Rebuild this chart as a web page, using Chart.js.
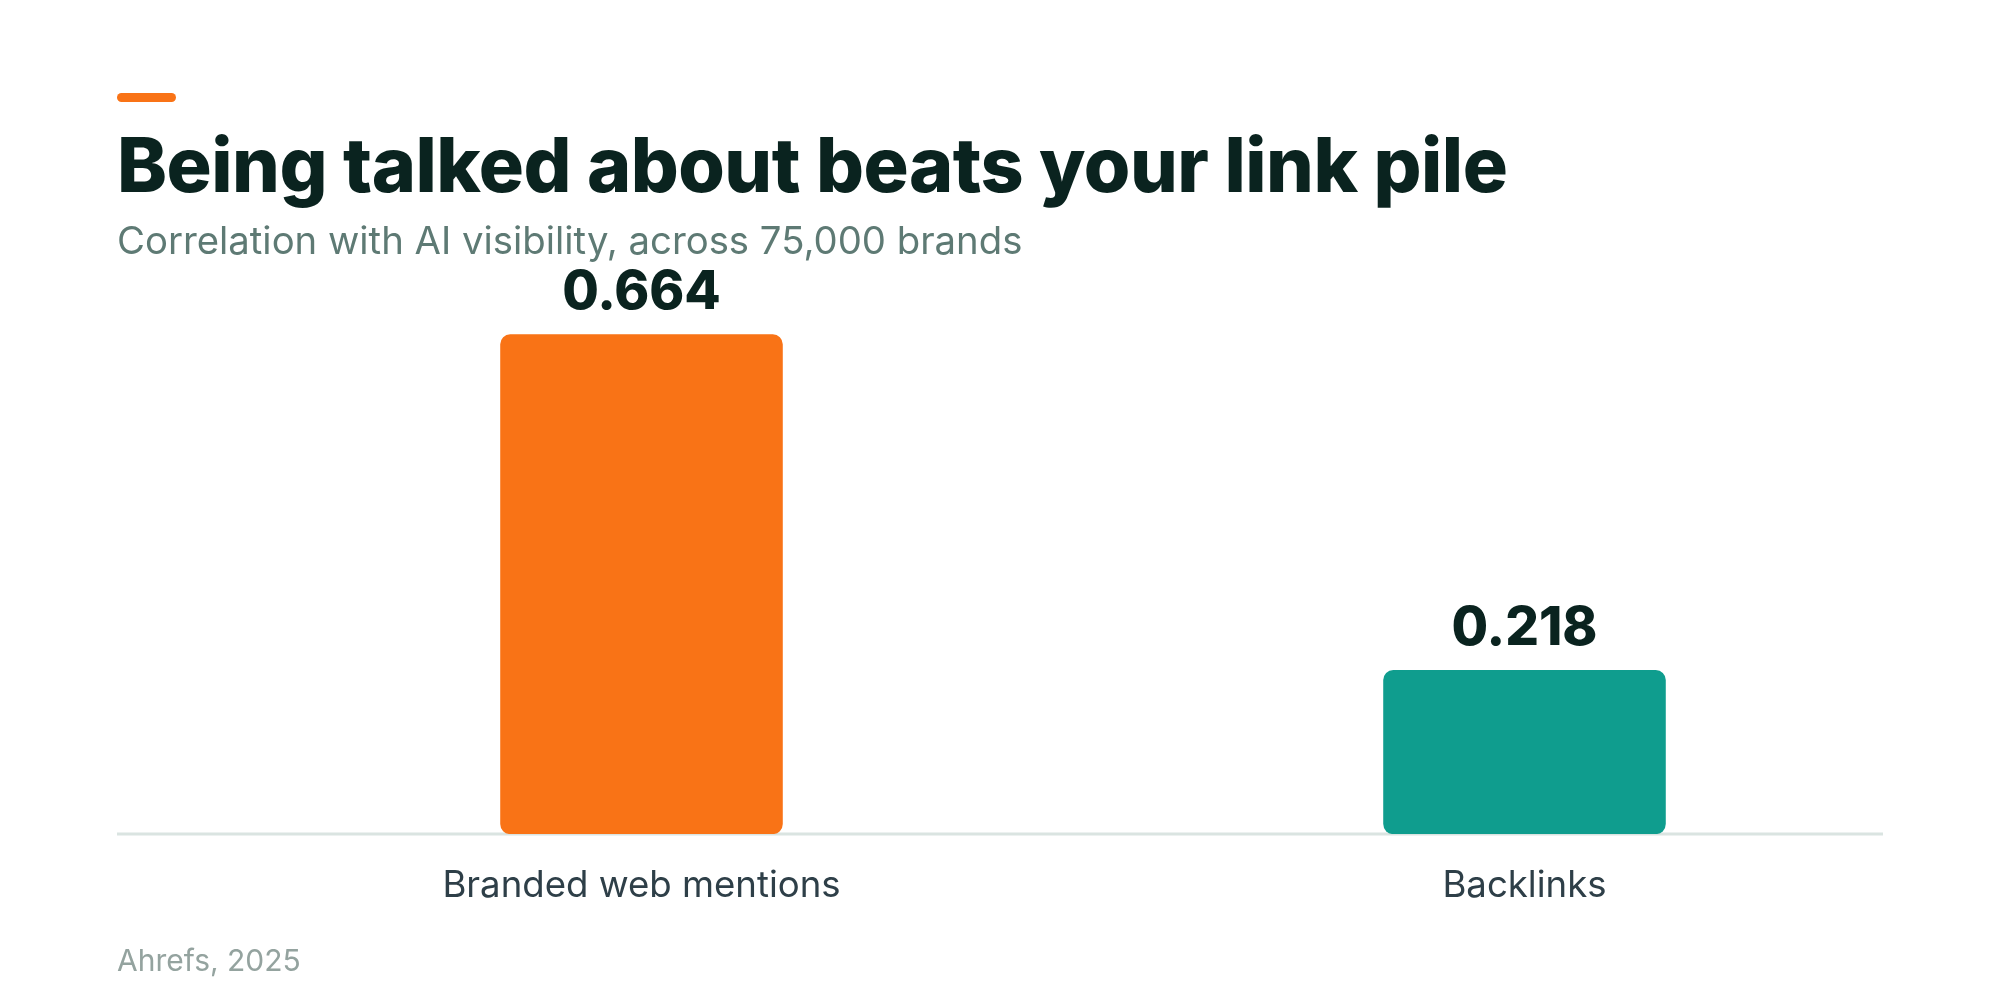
<!DOCTYPE html>
<html>
<head>
<meta charset="utf-8">
<script src="https://cdn.jsdelivr.net/npm/chart.js@4"></script>
<style>
  html, body { margin: 0; padding: 0; background: #fff; }
  #wrap { position: relative; width: 2000px; height: 1000px; overflow: hidden; }
  #chart { position: absolute; left: 0; top: 0; }
  .accent { position: absolute; left: 117px; top: 93px; width: 59px; height: 9px; border-radius: 5px; background: #F97316; }
  .txt { position: absolute; left: 117px; white-space: nowrap; font-family: Inter, sans-serif; line-height: 1; }
  #title { top: 127px; font-size: 75.3px; font-weight: 800; color: #0A231F; letter-spacing: -0.5px; }
  #subtitle { top: 221px; font-size: 38.3px; font-weight: 400; color: #5E7A74; }
  #source { top: 945px; font-size: 30px; font-weight: 400; color: #94A39F; }
</style>
</head>
<body>
<div id="wrap">
  <canvas id="chart" width="2000" height="1000"></canvas>
  <div class="accent"></div>
  <div class="txt" id="title">Being talked about beats your link pile</div>
  <div class="txt" id="subtitle">Correlation with AI visibility, across 75,000 brands</div>
  <div class="txt" id="source">Ahrefs, 2025</div>
</div>
<script>
// data
const categories = ['Branded web mentions', 'Backlinks'];
const correlations = [0.664, 0.218];
const barColors = ['#F97316', '#0F9D8E'];

// thin baseline under the bars, running the full page width
const baseLine = {
    id: 'baseLine',
    beforeDatasetsDraw(chart) {
        const ctx = chart.ctx;
        const y = chart.scales.y.getPixelForValue(0);
        ctx.save();
        ctx.strokeStyle = '#DAE4E1';
        ctx.lineWidth = 3;
        ctx.beginPath();
        ctx.moveTo(117, y);
        ctx.lineTo(1883, y);
        ctx.stroke();
        ctx.restore();
    }
};

// value labels above each bar
const valueLabels = {
    id: 'valueLabels',
    afterDatasetsDraw(chart) {
        const ctx = chart.ctx;
        const meta = chart.getDatasetMeta(0);
        ctx.save();
        ctx.font = '800 53px Inter, sans-serif';
        ctx.fillStyle = '#0A231F';
        ctx.textAlign = 'center';
        ctx.textBaseline = 'alphabetic';
        meta.data.forEach((bar, i) => {
            ctx.fillText(correlations[i].toFixed(3), bar.x, bar.y - 25);
        });
        ctx.restore();
    }
};

const ctx = document.getElementById('chart').getContext('2d');
const chart = new Chart(ctx, {
    type: 'bar',
    data: {
        labels: categories,
        datasets: [{
            data: correlations,
            backgroundColor: barColors,
            borderRadius: 10,
            borderSkipped: false,
            categoryPercentage: 1,
            barPercentage: 0.32
        }]
    },
    options: {
        responsive: false,
        animation: false,
        layout: {
            padding: { left: 200, right: 34, top: 232, bottom: 62 }
        },
        plugins: {
            legend: { display: false },
            tooltip: { enabled: false }
        },
        scales: {
            x: {
                grid: { display: false, drawTicks: false },
                border: { display: false },
                ticks: {
                    padding: 30,
                    color: '#2E3F48',
                    font: { family: 'Inter', size: 36.6, weight: '400' }
                }
            },
            y: {
                display: false,
                min: 0,
                max: 0.8
            }
        }
    },
    plugins: [baseLine, valueLabels]
});
</script>
</body>
</html>
